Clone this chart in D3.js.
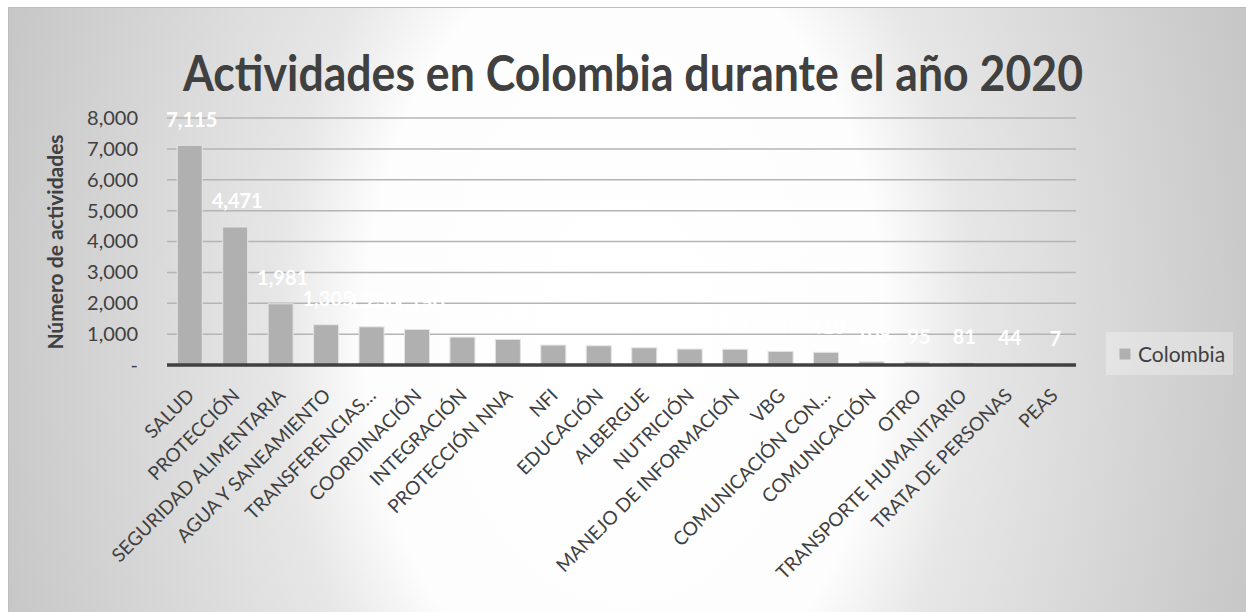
<!DOCTYPE html>
<html>
<head>
<meta charset="utf-8">
<script src="https://cdn.jsdelivr.net/npm/d3@7"></script>
<style>
  html, body { margin: 0; padding: 0; background: #fff; }
  svg { display: block; font-family: Lato, 'Open Sans', sans-serif; }
</style>
</head>
<body>
<div id="chart"></div>
<script>
var categories = ['SALUD', 'PROTECCIÓN', 'SEGURIDAD ALIMENTARIA', 'AGUA Y SANEAMIENTO', 'TRANSFERENCIAS…',
    'COORDINACIÓN', 'INTEGRACIÓN', 'PROTECCIÓN NNA', 'NFI', 'EDUCACIÓN', 'ALBERGUE', 'NUTRICIÓN',
    'MANEJO DE INFORMACIÓN', 'VBG', 'COMUNICACIÓN CON…', 'COMUNICACIÓN', 'OTRO', 'TRANSPORTE HUMANITARIO',
    'TRATA DE PERSONAS', 'PEAS'];
var values = [7115, 4471, 1981, 1305, 1236, 1150, 903, 828, 645, 623, 558, 516, 510, 442, 410, 108, 95, 81, 44, 7];
var yTicks = [0, 1000, 2000, 3000, 4000, 5000, 6000, 7000, 8000];
var seriesName = 'Colombia';
var chartTitle = 'Actividades en Colombia durante el año 2020';
var yTitle = 'Número de actividades';

var width = 1246;
var height = 612;
var plotLeft = 167;
var plotRight = 1076;
var plotTop = 118;
var plotBottom = 365;
var textColor = '#404040';
var barColor = '#b0b0b0';
var fmt = d3.format(',');

var svg = d3.select('#chart').append('svg')
    .attr('width', width)
    .attr('height', height);

// radial fill of the chart area: white in the middle, grey toward the edges
var defs = svg.append('defs');
var grad = defs.append('radialGradient')
    .attr('id', 'bg')
    .attr('gradientUnits', 'userSpaceOnUse')
    .attr('cx', 625)
    .attr('cy', 330)
    .attr('r', 720)
    .attr('gradientTransform', 'translate(0,330) scale(1,1.5) translate(0,-330)');
grad.append('stop').attr('offset', 0).attr('stop-color', '#ffffff');
grad.append('stop').attr('offset', 0.36).attr('stop-color', '#fdfdfd');
grad.append('stop').attr('offset', 0.48).attr('stop-color', '#e7e7e7');
grad.append('stop').attr('offset', 0.87).attr('stop-color', '#c9c9c9');
grad.append('stop').attr('offset', 1).attr('stop-color', '#c0c0c0');

svg.append('rect')
    .attr('x', 8.5)
    .attr('y', 7.5)
    .attr('width', 1260)
    .attr('height', 620)
    .attr('fill', 'url(#bg)')
    .attr('stroke', '#bdbdbd');

svg.append('text')
    .text(chartTitle)
    .attr('x', 633)
    .attr('y', 91)
    .attr('text-anchor', 'middle')
    .attr('font-size', 50)
    .attr('font-weight', 'bold')
    .attr('fill', textColor)
    .attr('textLength', 900)
    .attr('lengthAdjust', 'spacingAndGlyphs');

var xScale = d3.scaleBand()
    .domain(categories)
    .range([plotLeft, plotRight])
    .paddingInner(0.45)
    .paddingOuter(0.225);

var yScale = d3.scaleLinear()
    .domain([0, 8000])
    .range([plotBottom, plotTop]);

// gridlines
svg.append('g')
    .attr('class', 'grid')
    .selectAll('line')
    .data(yTicks.filter(d => d > 0))
    .enter()
    .append('line')
    .attr('x1', plotLeft)
    .attr('x2', plotRight)
    .attr('y1', d => yScale(d))
    .attr('y2', d => yScale(d))
    .attr('stroke', '#b4b4b4')
    .attr('stroke-width', 1.5);

// y axis labels
var yAxis = d3.axisLeft(yScale)
    .tickValues(yTicks)
    .tickSize(0)
    .tickPadding(29)
    .tickFormat(d => d === 0 ? '-' : fmt(d));

var yG = svg.append('g')
    .attr('transform', `translate(${plotLeft},0)`)
    .call(yAxis);
yG.select('.domain').remove();
yG.selectAll('text')
    .attr('font-family', 'Lato, sans-serif')
    .attr('font-size', 20)
    .attr('fill', textColor);

svg.append('text')
    .text(yTitle)
    .attr('transform', 'translate(58,242) rotate(-90)')
    .attr('text-anchor', 'middle')
    .attr('dominant-baseline', 'middle')
    .attr('font-size', 21)
    .attr('font-weight', 'bold')
    .attr('fill', textColor);

// bars
svg.append('g')
    .selectAll('rect')
    .data(values)
    .enter()
    .append('rect')
    .attr('x', (d, i) => xScale(categories[i]))
    .attr('y', d => yScale(d))
    .attr('width', xScale.bandwidth())
    .attr('height', d => plotBottom - yScale(d))
    .attr('fill', barColor)
    .attr('stroke', '#e4e4e4')
    .attr('stroke-width', 1);

// x axis, labels slanted at 45 degrees
var xAxis = d3.axisBottom(xScale).tickSize(0).tickPadding(0);
var xG = svg.append('g')
    .attr('transform', `translate(0,${plotBottom})`)
    .call(xAxis);
xG.select('.domain').remove();
xG.selectAll('text')
    .attr('font-family', 'Lato, sans-serif')
    .attr('font-size', 19)
    .attr('fill', textColor)
    .attr('text-anchor', 'end')
    .attr('x', 0)
    .attr('y', 0)
    .attr('dy', '0.72em')
    .attr('transform', 'translate(-4,22) rotate(-45)');

svg.append('line')
    .attr('x1', plotLeft)
    .attr('x2', plotRight)
    .attr('y1', plotBottom)
    .attr('y2', plotBottom)
    .attr('stroke', '#404040')
    .attr('stroke-width', 3.3);

// data labels
svg.append('g')
    .selectAll('text')
    .data(values)
    .enter()
    .append('text')
    .text(d => fmt(d))
    .attr('x', (d, i) => xScale(categories[i]) + xScale.bandwidth() / 2 + 2)
    .attr('y', d => yScale(d) - 18.5)
    .attr('text-anchor', 'middle')
    .attr('font-size', 20)
    .attr('font-weight', 'bold')
    .attr('fill', '#ffffff');

// legend
var legend = svg.append('g').attr('transform', 'translate(1106,332)');
legend.append('rect')
    .attr('width', 127)
    .attr('height', 43)
    .attr('fill', '#ffffff')
    .attr('fill-opacity', 0.3);
legend.append('rect')
    .attr('x', 13)
    .attr('y', 16)
    .attr('width', 12)
    .attr('height', 12)
    .attr('fill', barColor)
    .attr('stroke', '#e4e4e4');
legend.append('text')
    .text(seriesName)
    .attr('x', 32)
    .attr('y', 30)
    .attr('font-size', 21)
    .attr('fill', textColor);
</script>
</body>
</html>
